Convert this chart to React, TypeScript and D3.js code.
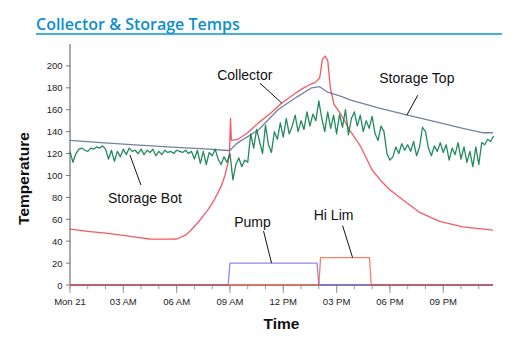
import React from "react";
import * as d3 from "d3";

// hours since midnight Mon 21
const collectorHours = [0, 1, 2, 3, 4, 4.5, 5.5, 6, 6.5, 6.8, 7.2, 7.76, 8.13, 8.5, 8.7, 8.9, 8.97, 9.03, 9.08, 9.45, 10, 10.6, 11.3, 11.9, 12.5, 13.05, 13.5, 13.8, 14.05, 14.2, 14.35, 14.5, 14.65, 14.85, 15.2, 15.75, 16.3, 17, 17.5, 18, 18.7, 19.7, 20.8, 22.1, 23.8];
const collectorTemps = [51, 49, 47.3, 45.3, 43, 42, 41.8, 42, 45.5, 50, 57, 68.5, 78, 90, 99, 112, 120, 152, 132, 133, 139, 148, 157, 166, 173, 179, 183, 185, 189, 206, 209, 205, 180, 165, 157, 141, 128, 105, 95, 87, 78, 66, 58, 53, 50];

const topHours = [0, 1.75, 3.65, 5.5, 7.8, 8.9, 9.0, 9.45, 10.6, 11.7, 12.8, 13.6, 14.05, 14.5, 15.3, 15.75, 17.4, 19, 20.6, 22.1, 23.2, 23.8];
const topTemps = [132, 130, 128, 126, 124, 122.8, 123, 130, 141.5, 160, 172, 180, 181, 176, 172, 169, 161.5, 155, 149, 143, 139, 139];

// storage bottom, one reading every 10 minutes
const botTemps = [
  122, 112, 120, 124, 125, 123,
  122, 125, 124, 126, 125, 127,
  124, 115, 123, 113, 122, 117,
  124, 119, 125, 122, 123, 120,
  124, 119, 123, 121, 124, 118,
  122, 119, 123, 121, 122, 120,
  123, 122, 121, 123, 120, 122,
  115, 123, 111, 122, 110, 121,
  118, 124, 115, 110, 117, 112,
  120, 96, 110, 116, 108, 114,
  112, 138, 125, 142, 131, 120,
  146, 128, 121, 140, 133, 148,
  135, 152, 138, 145, 155, 140,
  150, 142, 158, 145, 156, 150,
  168, 152, 140, 158, 143, 155,
  138, 156, 144, 160, 137, 152,
  158, 145, 155, 140, 150, 143,
  154, 138, 132, 145, 140, 120,
  114, 117, 126, 120, 129, 123,
  128, 122, 131, 118, 126, 144,
  140, 125, 118, 127, 122, 130,
  121, 128, 114, 125, 119, 130,
  115, 126, 112, 122, 108, 126,
  110, 130, 128, 133, 131, 136,
];

const pumpHours = [0, 8.9, 9.0, 13.9, 14.0, 23.8];
const pumpValues = [0, 0, 20, 20, 0, 0];
const hiLimHours = [0, 14.0, 14.1, 16.85, 16.95, 23.8];
const hiLimValues = [0, 0, 25, 25, 0, 0];

const yTicks = [0, 20, 40, 60, 80, 100, 120, 140, 160, 180, 200];

const annotations = [
  { label: "Collector", hour: 11.92, value: 166, lx: -22, ly: -20, tx: -37, ty: -23 },
  { label: "Storage Top", hour: 18.95, value: 155, lx: 11, ly: -20, tx: 10, ty: -32 },
  { label: "Storage Bot", hour: 3.37, value: 118.7, lx: 11, ly: 30, tx: 15, ty: 48 },
  { label: "Pump", hour: 11.34, value: 20, lx: -8, ly: -32, tx: -19, ty: -36 },
  { label: "Hi Lim", hour: 15.9, value: 25, lx: -10, ly: -32, tx: -19, ty: -38 },
];

const day = new Date(2014, 3, 21, 0, 0);
const at = (h: number) => new Date(day.getTime() + h * 3600 * 1000);

export default function App() {
  const width = 526;
  const height = 358;
  const margin = { top: 44, right: 33, bottom: 73, left: 70 };

  const x = d3
    .scaleTime()
    .domain([day, at(23.8)])
    .range([margin.left, width - margin.right]);
  const y = d3
    .scaleLinear()
    .domain([0, 220])
    .range([height - margin.bottom, margin.top]);

  const line = d3
    .line<[number, number]>()
    .x((d) => x(at(d[0])))
    .y((d) => y(d[1]));

  const zip = (hs: number[], vs: number[]) => hs.map((h, i) => [h, vs[i]] as [number, number]);
  const botData = botTemps.map((v, i) => [i / 6, v] as [number, number]);

  const majorTicks = x.ticks(d3.timeHour.every(3)!);
  const minorTicks = x.ticks(d3.timeHour.every(1)!);
  const fmt = (d: Date) => (d.getHours() === 0 ? d3.timeFormat("%a %d")(d) : d3.timeFormat("%I %p")(d));

  const base = y(0);
  const tickFont = "'Liberation Sans', Arial, sans-serif";

  return (
    <svg width={width} height={height} style={{ position: "absolute", left: 0, top: 0 }}>
      <text x={36} y={30} fill="#0a8fcf" fontFamily="'Open Sans', sans-serif" fontWeight={600} fontSize={16}>
        Collector &amp; Storage Temps
      </text>
      <line x1={36} x2={502} y1={34} y2={34} stroke="#0a93d3" strokeWidth={1.5} />

      {/* y axis */}
      <line x1={margin.left} x2={margin.left} y1={margin.top} y2={base} stroke="#aaa" strokeWidth={2} />
      {yTicks.map((t) => (
        <g key={t}>
          <line x1={margin.left - 4} x2={margin.left} y1={y(t)} y2={y(t)} stroke="#777" />
          <text x={margin.left - 7.5} y={y(t) + 3.5} textAnchor="end" fontSize={9.5} fontFamily={tickFont} fill="#222">
            {t}
          </text>
        </g>
      ))}

      {/* x axis */}
      <line x1={margin.left} x2={width - margin.right} y1={base} y2={base} stroke="#aaa" strokeWidth={2} />
      {minorTicks.map((t, i) => (
        <line key={"m" + i} x1={x(t)} x2={x(t)} y1={base} y2={base + 4} stroke="#999" />
      ))}
      {majorTicks.map((t, i) => (
        <g key={"M" + i}>
          <line x1={x(t)} x2={x(t)} y1={base} y2={base + 8} stroke="#999" />
          <text x={x(t)} y={base + 20} textAnchor="middle" fontSize={9.5} fontFamily={tickFont} fill="#222">
            {fmt(t)}
          </text>
        </g>
      ))}

      <text
        transform={`translate(29, ${(margin.top + base) / 2 + 14}) rotate(-90)`}
        textAnchor="middle"
        fontSize={15.5}
        fontWeight="bold"
        fontFamily={tickFont}
        fill="#111"
      >
        Temperature
      </text>
      <text x={(margin.left + width - margin.right) / 2} y={329} textAnchor="middle" fontSize={15.5} fontWeight="bold" fontFamily={tickFont} fill="#111">
        Time
      </text>

      {/* series */}
      <g fill="none" strokeWidth={1.3} strokeLinejoin="round">
        <path d={line(zip(collectorHours, collectorTemps))!} stroke="#f0323c" strokeOpacity={0.8} />
        <path d={line(zip(topHours, topTemps))!} stroke="#4f6488" strokeOpacity={0.8} />
        <path d={line(botData)!} stroke="#0b7d4c" strokeOpacity={0.9} />
        <path d={line(zip(pumpHours, pumpValues))!} stroke="#5a46e8" strokeOpacity={0.65} />
        <path d={line(zip(hiLimHours, hiLimValues))!} stroke="#f04a28" strokeOpacity={0.7} />
      </g>

      {/* annotations */}
      {annotations.map((a) => {
        const px = x(at(a.hour));
        const py = y(a.value);
        return (
          <g key={a.label}>
            <line x1={px} y1={py} x2={px + a.lx} y2={py + a.ly} stroke="#111" strokeWidth={1} />
            <text x={px + a.tx} y={py + a.ty} textAnchor="middle" fontSize={14} fontFamily={tickFont} fill="#111">
              {a.label}
            </text>
          </g>
        );
      })}
    </svg>
  );
}
